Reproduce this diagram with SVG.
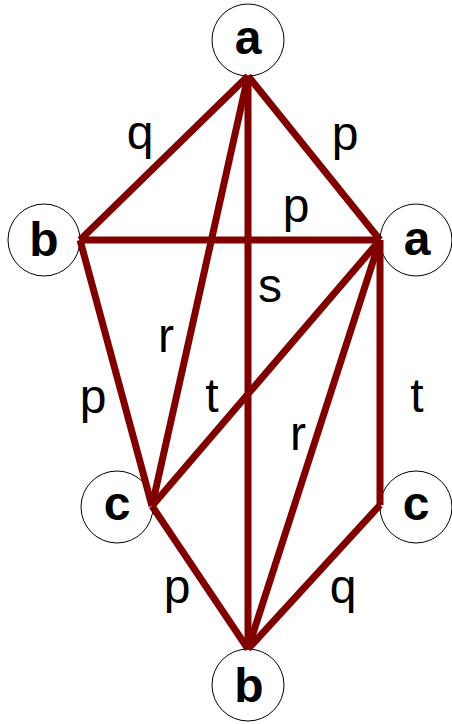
<svg xmlns="http://www.w3.org/2000/svg" width="452" height="724" viewBox="0 0 452 724">
<style>
.n circle{fill:#fff;stroke:#000;stroke-width:1}
.n text{font-family:"Liberation Sans",Arial,sans-serif;font-weight:bold;font-size:48px;text-anchor:middle;fill:#000}
.e line{stroke:#800000;stroke-width:7;stroke-linecap:butt}
.l text{font-family:"Liberation Sans",Arial,sans-serif;font-size:48px;text-anchor:middle;fill:#000}
</style>
<rect width="452" height="724" fill="#fff"/>
<g id="nodes">
<g id="a1" class="n"><circle cx="248" cy="40" r="36"/><text x="248" y="54">a</text></g>
<g id="b1" class="n"><circle cx="44" cy="240" r="36"/><text x="44" y="256">b</text></g>
<g id="a2" class="n"><circle cx="416" cy="240" r="36"/><text x="417" y="255">a</text></g>
<g id="c1" class="n"><circle cx="117" cy="507" r="36"/><text x="117" y="520">c</text></g>
<g id="c2" class="n"><circle cx="416" cy="507" r="36"/><text x="416" y="520">c</text></g>
<g id="b2" class="n"><circle cx="248" cy="685" r="36"/><text x="249" y="702">b</text></g>
</g>
<g id="edges" class="e">
<line x1="248" y1="76" x2="80" y2="240"/>
<line x1="248" y1="76" x2="380" y2="240"/>
<line x1="248" y1="76" x2="152" y2="506"/>
<line x1="248" y1="76" x2="248" y2="649"/>
<line x1="80" y1="240" x2="380" y2="240"/>
<line x1="80" y1="240" x2="152" y2="506"/>
<line x1="380" y1="240" x2="152" y2="506"/>
<line x1="380" y1="240" x2="248" y2="649"/>
<line x1="380" y1="240" x2="380" y2="505"/>
<line x1="152" y1="506" x2="248" y2="649"/>
<line x1="380" y1="505" x2="248" y2="649"/>
</g>
<g id="labels" class="l">
<text x="140" y="149">q</text>
<text x="345" y="150">p</text>
<text x="296" y="222">p</text>
<text x="270" y="302">s</text>
<text x="166" y="352">r</text>
<text x="93" y="413">p</text>
<text x="212" y="412">t</text>
<text x="417" y="412">t</text>
<text x="298" y="450">r</text>
<text x="177" y="603">p</text>
<text x="343" y="603">q</text>
</g>
</svg>
